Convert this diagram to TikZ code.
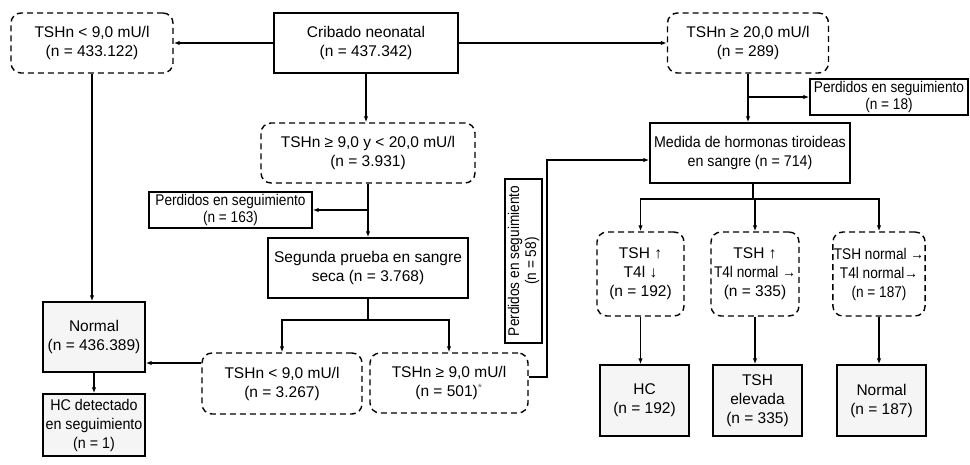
\documentclass[tikz,border=0pt]{standalone}
\usepackage{fontspec}
\setmainfont{Liberation Sans}
\newfontfamily\cond{Liberation Sans}[FakeStretch=0.88]
\newfontfamily\condb{Liberation Sans}[FakeStretch=0.92]
\usetikzlibrary{arrows.meta}
\newcommand\fs{\fontsize{15.5}{19}\selectfont}
\begin{document}
\begin{tikzpicture}[x=1pt,y=-1pt,
  every node/.style={font=\fs, align=center, inner sep=1pt},
  solidbox/.style={draw, line width=1.4pt, fill=white},
  graybox/.style={draw, line width=1.4pt, fill=black!4},
  dashbox/.style={draw, line width=1.4pt, dash pattern=on 6pt off 4pt, rounded corners=10pt},
  lost/.style={draw, line width=1.4pt, font=\cond\fontsize{15.5}{17}\selectfont, inner sep=1pt},
  arr/.style={line width=1.2pt, -{Latex[length=6pt,width=4.5pt]}},
  ln/.style={line width=1.2pt}]
\useasboundingbox (0,0) rectangle (970,464);

% top row
\node[dashbox, minimum width=162pt, minimum height=60pt] (A) at (92,43) {TSHn < 9,0 mU/l\\(n = 433.122)};
\node[solidbox, minimum width=184pt, minimum height=60pt] (B) at (366,43) {Cribado neonatal\\(n = 437.342)};
\node[dashbox, minimum width=161pt, minimum height=60pt] (C) at (748,43) {TSHn ≥ 20,0 mU/l\\(n = 289)};
\node[lost, minimum width=158pt, minimum height=36pt] (P18) at (889,97) {Perdidos en seguimiento\\(n = 18)};
\node[solidbox, minimum width=200pt, minimum height=60pt, font=\condb\fs] (D) at (750,153) {Medida de hormonas tiroideas\\en sangre (n = 714)};

% middle column
\node[dashbox, minimum width=214pt, minimum height=60pt] (E) at (368,153) {TSHn ≥ 9,0 y < 20,0 mU/l\\(n = 3.931)};
\node[lost, minimum width=163pt, minimum height=36pt] (P163) at (230.5,210) {Perdidos en seguimiento\\(n = 163)};
\node[solidbox, minimum width=200pt, minimum height=60pt] (F) at (368,268) {Segunda prueba en sangre\\seca (n = 3.768)};
\node[dashbox, minimum width=160pt, minimum height=61pt] (G) at (282,383.5) {TSHn < 9,0 mU/l\\(n = 3.267)};
\node[dashbox, minimum width=158pt, minimum height=60pt] (H) at (449,383) {TSHn ≥ 9,0 mU/l\\(n = 501)\textsuperscript{\color{black!60}*}};
\node[lost, rotate=90, minimum width=164pt, minimum height=37pt] (P58) at (523.5,261) {Perdidos en seguimiento\\(n = 58)};

% left column
\node[graybox, minimum width=102pt, minimum height=70pt] (I) at (94,337) {Normal\\(n = 436.389)};
\node[graybox, minimum width=102pt, minimum height=62pt, font=\condb\fs] (J) at (94,425) {HC detectado\\en seguimiento\\(n = 1)};

% right branches
\node[dashbox, minimum width=87pt, minimum height=84pt] (K) at (640.5,274) {TSH ↑\\T4l ↓\\(n = 192)};
\node[dashbox, minimum width=88pt, minimum height=84pt] (L) at (755,274) {TSH ↑\\{\cond T4l normal →}\\(n = 335)};
\node[dashbox, minimum width=88pt, minimum height=84pt, font=\cond\fs] (M) at (879,274) {TSH normal →\\T4l normal→\\(n = 187)};
\node[graybox, minimum width=89pt, minimum height=71pt] (N) at (644.5,400.5) {HC\\(n = 192)};
\node[graybox, minimum width=89pt, minimum height=71pt] (O) at (757.5,400.5) {TSH\\elevada\\(n = 335)};
\node[graybox, minimum width=89pt, minimum height=71pt] (Pn) at (881.5,400.5) {Normal\\(n = 187)};

% connectors
\draw[arr] (B.west) -- (A.east);
\draw[arr] (B.east) -- (C.west);
\draw[arr] (B.south) -- (B.south |- E.north);
\draw[arr] (C.south) -- (C.south |- D.north);
\draw[arr] (C.south |- P18.west) -- (P18.west);
\draw[arr] (E.south) -- (E.south |- F.north);
\draw[arr] (E.south |- P163.east) -- (P163.east);
\coordinate (fj) at (368,320);
\draw[ln] (F.south) -- (fj);
\draw[arr] (fj) -| (G.north);
\draw[arr] (fj) -| (H.north);
\coordinate (gi) at (0,363);
\draw[arr] (G.west |- gi) -- (I.east |- gi);
\draw[arr] (A.south) -- (A.south |- I.north);
\draw[arr] (I.south) -- (J.north);
\coordinate (h1) at (547,377);
\coordinate (h2) at (547,160);
\draw[arr] (H.east |- h1) -- (h1) -- (h2) -- (D.west |- h2);
\coordinate (dj) at (753,199);
\draw[ln] (D.south -| dj) -- (dj);
\draw[arr] (dj) -| (K.north);
\draw[arr] (dj) -| (L.north);
\draw[arr] (dj) -| (M.north);
\draw[arr] (K.south) -- (K.south |- N.north);
\draw[arr] (L.south) -- (L.south |- O.north);
\draw[arr] (M.south) -- (M.south |- Pn.north);
\end{tikzpicture}
\end{document}
